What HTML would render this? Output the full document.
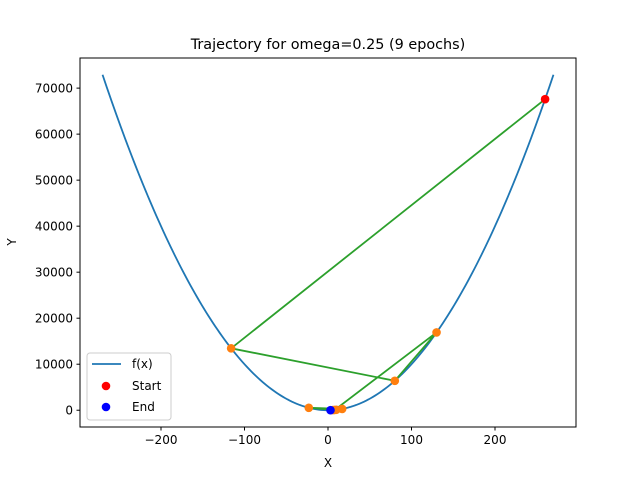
<!DOCTYPE html>
<html><head><meta charset="utf-8"><style>body{margin:0;background:#fff}svg{display:block;font-family:"DejaVu Sans","Liberation Sans",sans-serif}</style></head>
<body>
<svg id="chart" width="640" height="480" viewBox="0 0 640 480" xmlns="http://www.w3.org/2000/svg">
<rect width="640" height="480" fill="#fff"/>
<text x="328" y="49" font-size="14.4" text-anchor="middle">Trajectory for omega=0.25 (9 epochs)</text>
<g id="plot"></g>
<rect x="80" y="58" width="496" height="369" fill="none" stroke="#000" stroke-width="1"/>
<g id="axes"></g>
<text x="328" y="467" font-size="12" text-anchor="middle">X</text>
<text x="16" y="242" font-size="12" text-anchor="middle" transform="rotate(-90 16 242)">Y</text>
<g>
<rect x="87" y="353" width="84" height="67" rx="3" fill="#fff" fill-opacity="0.8" stroke="#ccc"/>
<line x1="92" y1="364" x2="121" y2="364" stroke="#1f77b4" stroke-width="1.8"/>
<text x="132" y="368" font-size="12">f(x)</text>
<circle cx="106" cy="386" r="4.3" fill="red"/>
<text x="132" y="390" font-size="12">Start</text>
<circle cx="106" cy="407" r="4.3" fill="blue"/>
<text x="132" y="411" font-size="12">End</text>
</g>
</svg>
<script>
const xTicks=[-200,-100,0,100,200];
const yTicks=[0,10000,20000,30000,40000,50000,60000,70000];
const trajX=[260,-116,80,130,8,-23,17,10,6,3];
const ns="http://www.w3.org/2000/svg";
const X0=80,X1=576,Y0=427,Y1=58;
const xmin=-297,xmax=297,ymin=-3645,ymax=76545;
const sx=v=>X0+(v-xmin)/(xmax-xmin)*(X1-X0);
const sy=v=>Y0-(v-ymin)/(ymax-ymin)*(Y0-Y1);
const f=x=>x*x;
const plot=document.getElementById('plot'),axes=document.getElementById('axes');
function mk(t,a,p){const e=document.createElementNS(ns,t);for(const k in a)e.setAttribute(k,a[k]);p.appendChild(e);return e;}
let d='';for(let i=0;i<=200;i++){const x=-270+540*i/200;d+=(i?'L':'M')+sx(x).toFixed(2)+' '+sy(f(x)).toFixed(2);}
const curve=mk('path',{d:d,fill:'none',stroke:'#1f77b4','stroke-width':1.8},plot);


const pts=trajX.map(x=>sx(x).toFixed(2)+','+sy(f(x)).toFixed(2)).join(' ');
const tl=mk('polyline',{points:pts,fill:'none',stroke:'#2ca02c','stroke-width':1.8},plot);


trajX.forEach((x,i)=>{if(i==0||i==trajX.length-1)return;const c=mk('circle',{cx:sx(x),cy:sy(f(x)),r:4.3,fill:'#ff7f0e'},plot);

});
const s=mk('circle',{cx:sx(trajX[0]),cy:sy(f(trajX[0])),r:4.3,fill:'red'},plot);


const eN=trajX[trajX.length-1];
const en=mk('circle',{cx:sx(eN),cy:sy(f(eN)),r:4.3,fill:'blue'},plot);


xTicks.forEach(v=>{const x=sx(v);mk('line',{x1:x,x2:x,y1:Y0,y2:Y0+3.5,stroke:'#000'},axes);
const t=mk('text',{x:x,y:Y0+17,'font-size':12,'text-anchor':'middle'},axes);t.textContent=v<0?'\u2212'+(-v):v;

});
yTicks.forEach(v=>{const y=sy(v);mk('line',{x1:X0,x2:X0-3.5,y1:y,y2:y,stroke:'#000'},axes);
const t=mk('text',{x:X0-7,y:y+4.5,'font-size':12,'text-anchor':'end'},axes);t.textContent=v;

});
</script>
</body></html>
